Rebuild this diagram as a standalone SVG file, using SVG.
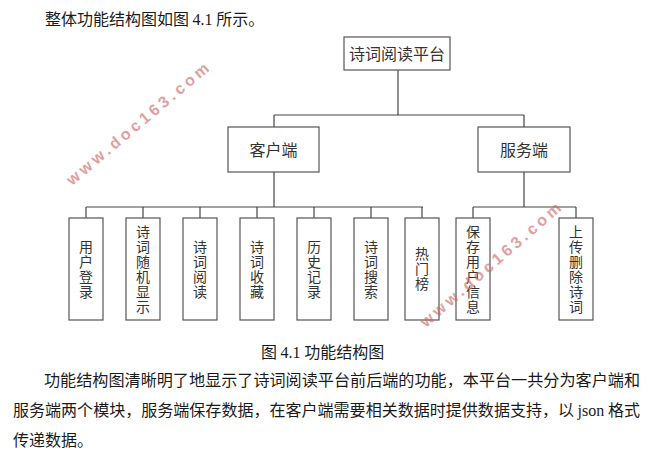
<svg xmlns="http://www.w3.org/2000/svg" width="666" height="450" viewBox="0 0 666 450">
<style>
.box{fill:#fff;stroke:#555;stroke-width:1.2}
.ln{fill:none;stroke:#444;stroke-width:1.2}
.lbl{font-family:"Noto Sans CJK SC","Noto Sans",sans-serif;font-size:16px;fill:#333;text-anchor:middle}
.vt{font-family:"Noto Sans CJK SC","Noto Sans",sans-serif;font-size:14px;fill:#333;text-anchor:middle}
.body{font-family:"Noto Sans CJK SC","Noto Sans",sans-serif;font-size:16px;fill:#1a1a1a}
.lat{font-family:"Liberation Serif",serif}
.wm{font-family:"Liberation Sans",sans-serif;font-weight:bold;font-size:16px;fill:#cc6666;opacity:0.62;letter-spacing:3.6px}
</style>
<rect width="666" height="450" fill="#fff"/>
<text class="body" x="45" y="25">整体功能结构图如图 <tspan class="lat">4.1</tspan> 所示。</text>

<g id="connectors">
<path class="ln" d="M398 70V115M274 115H524M274 115V127M524 115V127"/>
<path class="ln" d="M274 172V207M86 207H423M86 207V218M143 207V218M200 207V218M257 207V218M314 207V218M371 207V218M422 207V218"/>
<path class="ln" d="M524 172V207M473 207H576M473 207V218M576 207V218"/>
</g>

<g id="root"><rect class="box" x="344" y="37" width="106" height="33"/><text class="lbl" x="397" y="59.5">诗词阅读平台</text></g>
<g id="client"><rect class="box" x="228" y="127" width="91" height="45"/><text class="lbl" x="273.5" y="155.5">客户端</text></g>
<g id="server"><rect class="box" x="478" y="127" width="92" height="45"/><text class="lbl" x="524" y="155.5">服务端</text></g>

<g id="n1"><rect class="box" x="69" y="218" width="34" height="102"/><text class="vt" x="86"><tspan x="86" y="251.5">用</tspan><tspan x="86" y="266.5">户</tspan><tspan x="86" y="281.5">登</tspan><tspan x="86" y="296.5">录</tspan></text></g>
<g id="n2"><rect class="box" x="126" y="218" width="34" height="102"/><text class="vt"><tspan x="143" y="236.5">诗</tspan><tspan x="143" y="251.5">词</tspan><tspan x="143" y="266.5">随</tspan><tspan x="143" y="281.5">机</tspan><tspan x="143" y="296.5">显</tspan><tspan x="143" y="311.5">示</tspan></text></g>
<g id="n3"><rect class="box" x="183" y="218" width="34" height="102"/><text class="vt"><tspan x="200" y="251.5">诗</tspan><tspan x="200" y="266.5">词</tspan><tspan x="200" y="281.5">阅</tspan><tspan x="200" y="296.5">读</tspan></text></g>
<g id="n4"><rect class="box" x="240" y="218" width="34" height="102"/><text class="vt"><tspan x="257" y="251.5">诗</tspan><tspan x="257" y="266.5">词</tspan><tspan x="257" y="281.5">收</tspan><tspan x="257" y="296.5">藏</tspan></text></g>
<g id="n5"><rect class="box" x="297" y="218" width="34" height="102"/><text class="vt"><tspan x="314" y="251.5">历</tspan><tspan x="314" y="266.5">史</tspan><tspan x="314" y="281.5">记</tspan><tspan x="314" y="296.5">录</tspan></text></g>
<g id="n6"><rect class="box" x="354" y="218" width="34" height="102"/><text class="vt"><tspan x="371" y="251.5">诗</tspan><tspan x="371" y="266.5">词</tspan><tspan x="371" y="281.5">搜</tspan><tspan x="371" y="296.5">索</tspan></text></g>
<g id="n7"><rect class="box" x="405" y="218" width="34" height="102"/><text class="vt"><tspan x="422" y="259">热</tspan><tspan x="422" y="274">门</tspan><tspan x="422" y="289">榜</tspan></text></g>
<g id="s1"><rect class="box" x="456" y="218" width="34" height="102"/><text class="vt"><tspan x="473" y="236.5">保</tspan><tspan x="473" y="251.5">存</tspan><tspan x="473" y="266.5">用</tspan><tspan x="473" y="281.5">户</tspan><tspan x="473" y="296.5">信</tspan><tspan x="473" y="311.5">息</tspan></text></g>
<g id="s2"><rect class="box" x="559" y="218" width="34" height="102"/><text class="vt"><tspan x="576" y="236.5">上</tspan><tspan x="576" y="251.5">传</tspan><tspan x="576" y="266.5">删</tspan><tspan x="576" y="281.5">除</tspan><tspan x="576" y="296.5">诗</tspan><tspan x="576" y="311.5">词</tspan></text></g>

<text class="body" x="261" y="358">图 <tspan class="lat">4.1</tspan>  功能结构图</text>
<text class="body" x="44" y="386" textLength="596" lengthAdjust="spacingAndGlyphs">功能结构图清晰明了地显示了诗词阅读平台前后端的功能，本平台一共分为客户端和</text>
<text class="body" x="13" y="416" textLength="627" lengthAdjust="spacingAndGlyphs">服务端两个模块，服务端保存数据，在客户端需要相关数据时提供数据支持，以 <tspan class="lat">json</tspan> 格式</text>
<text class="body" x="13" y="446">传递数据。</text>

<text class="wm" transform="translate(72,186) rotate(-40)">www.doc163.com</text>
<text class="wm" transform="translate(426,328) rotate(-41)">www.doc163.com</text>
</svg>
